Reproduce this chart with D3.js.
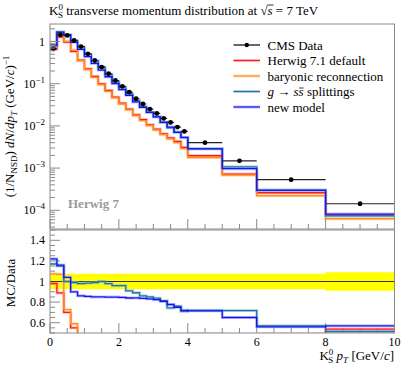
<!DOCTYPE html>
<html><head><meta charset="utf-8">
<script src="https://cdn.jsdelivr.net/npm/d3@7/dist/d3.min.js"></script>
<style>
body{margin:0;background:#fff}
svg{display:block}
text{font-family:"Liberation Serif","DejaVu Serif",serif;fill:#000}
</style>
</head><body>
<svg id="c" width="407" height="367"></svg>
<script>
// ---- data ----
const binEdges = [0,0.2,0.4,0.6,0.8,1.0,1.2,1.4,1.6,1.8,2.0,2.2,2.4,2.6,2.8,3.0,3.2,3.4,3.6,3.8,4.0,5,6,8,10];
const cmsData = [0.67,1.44,1.39,1.06,0.76,0.51,0.355,0.247,0.172,0.119,0.086,0.063,0.044,0.033,0.025,0.0198,0.0150,0.0121,0.0094,0.0074,0.0040,0.00149,0.00053,0.000143];
const cmsRelErr = [0.075,0.075,0.075,0.075,0.075,0.075,0.075,0.075,0.075,0.075,0.075,0.075,0.075,0.075,0.075,0.075,0.075,0.075,0.075,0.075,0.075,0.075,0.075,0.09];
const herwigDefault = [0.657,1.28,0.973,0.583,0.36,0.225,0.148,0.099,0.069,0.048,0.0346,0.025,0.0183,0.0141,0.0106,0.0084,0.0065,0.0052,0.0043,0.0031,0.00196,0.00072,0.00026,0.000077];
const baryonicReco = [0.72,1.54,1.01,0.625,0.35,0.215,0.142,0.095,0.066,0.046,0.033,0.024,0.0175,0.0134,0.0101,0.0080,0.0062,0.0049,0.0040,0.0029,0.00178,0.00068,0.000221,0.000063];
const gssSplit = [0.784,1.656,1.39,1.049,0.745,0.502,0.351,0.247,0.1686,0.1142,0.0826,0.0573,0.0392,0.0284,0.02125,0.0166,0.0122,0.0090,0.00714,0.00525,0.00288,0.00107,0.000302,0.0000736];
const newModel = [0.817,1.67,1.446,0.954,0.654,0.436,0.302,0.210,0.146,0.101,0.0727,0.0529,0.0370,0.0276,0.0208,0.0163,0.0121,0.0094,0.00705,0.00533,0.00286,0.000969,0.000297,0.0000815];
const seriesNames = ["Herwig 7.1 default","baryonic reconnection","g \u2192 ss\u0304 splittings","new model"];
const xTickLabels = ["0","2","4","6","8","10"];
const ratioTickLabels = ["0.6","0.8","1","1.2","1.4"];
const logTickExps = [0,-1,-2,-3,-4];

// ---- styles ----
const colors = ["#ff1a1a","#ff8f1f","#1f73a6","#1414f0"];
const halos  = ["#ff9a9a","#ffc88a","#8fc0d8","#9a9aff"];

const svg = d3.select("#c");
const L = 50, R = 394.5, T = 24, B = 229, RT = 230, RB = 333;
const x = d3.scaleLinear([0,10],[L,R]);
const y = d3.scaleLog([3.6e-5,2.6],[B,T]);
const yr = d3.scaleLinear([0.5,1.5],[RB,RT]);
const frameCol = "#8a8a8a";

const defs = svg.append("defs");
defs.append("clipPath").attr("id","cm").append("rect").attr("x",L).attr("y",T).attr("width",R-L).attr("height",B-T);
defs.append("clipPath").attr("id","cr").append("rect").attr("x",L).attr("y",RT).attr("width",R-L).attr("height",RB-RT);

function stepPts(vals){
  const p = vals.map((v,i)=>[binEdges[i],v]);
  p.push([binEdges[vals.length], vals[vals.length-1]]);
  return p;
}
const lineMain = d3.line().x(d=>x(d[0])).y(d=>y(d[1])).curve(d3.curveStepAfter);
const lineRatio = d3.line().x(d=>x(d[0])).y(d=>yr(d[1])).curve(d3.curveStepAfter);

// ---- main panel ----
const gm = svg.append("g").attr("clip-path","url(#cm)");
const mcs = [herwigDefault, baryonicReco, gssSplit, newModel];
mcs.forEach((s,k)=>{
  gm.append("path").attr("d",lineMain(stepPts(s))).attr("fill","none").attr("stroke",halos[k]).attr("stroke-width",3).attr("opacity",0.6);
});
mcs.forEach((s,k)=>{
  gm.append("path").attr("d",lineMain(stepPts(s))).attr("fill","none").attr("stroke",colors[k]).attr("stroke-width",1.3);
});
// data
cmsData.forEach((v,i)=>{
  const lo = binEdges[i], hi = binEdges[i+1], c = (lo+hi)/2;
  gm.append("line").attr("x1",x(lo)).attr("x2",x(hi)).attr("y1",y(v)).attr("y2",y(v)).attr("stroke","#222").attr("stroke-width",1.2);
  gm.append("line").attr("x1",x(c)).attr("x2",x(c)).attr("y1",y(v*(1-cmsRelErr[i]))).attr("y2",y(v*(1+cmsRelErr[i]))).attr("stroke","#222").attr("stroke-width",1.2);
  gm.append("circle").attr("cx",x(c)).attr("cy",y(v)).attr("r",2.4).attr("fill","#000");
});

// frame main
svg.append("rect").attr("x",L).attr("y",T).attr("width",R-L).attr("height",B-T).attr("fill","none").attr("stroke",frameCol).attr("stroke-width",1);

// main ticks x (bottom)
const tk = svg.append("g").attr("stroke",frameCol).attr("stroke-width",1);
d3.range(0,10.01,0.5).forEach(t=>{
  const major = Math.abs(t/2-Math.round(t/2))<1e-6;
  const len = major?10:5;
  tk.append("line").attr("x1",x(t)).attr("x2",x(t)).attr("y1",B).attr("y2",B-len);
  tk.append("line").attr("x1",x(t)).attr("x2",x(t)).attr("y1",RB).attr("y2",RB-len);
});
// main ticks y (left, log)
for(let e=-5;e<=0;e++){
  for(let m=1;m<=9;m++){
    const v = m*Math.pow(10,e);
    if(v<3.6e-5||v>2.6) continue;
    const len = m===1?10:5;
    tk.append("line").attr("x1",L).attr("x2",L+len).attr("y1",y(v)).attr("y2",y(v));
  }
}
// ratio ticks y
d3.range(0.5,1.5001,0.05).forEach(t=>{
  const major = Math.abs(t*5-Math.round(t*5))<1e-6 && t>0.55 && t<1.45;
  tk.append("line").attr("x1",L).attr("x2",L+(major?10:5)).attr("y1",yr(t)).attr("y2",yr(t));
});

// main y labels
logTickExps.forEach(e=>{
  const t = svg.append("text").attr("x",45).attr("y",y(Math.pow(10,e))+4).attr("text-anchor","end").attr("font-size",12);
  if(e===0){ t.text("1"); }
  else { t.append("tspan").text("10"); t.append("tspan").attr("dy",-5).attr("font-size",9).text("\u2212"+(-e)); }
});

// ---- ratio panel ----
const grr = svg.append("g").attr("clip-path","url(#cr)");
const bandArea = d3.area().x(d=>x(d[0])).y0(d=>yr(1-d[1])).y1(d=>yr(1+d[1])).curve(d3.curveStepAfter);
grr.append("path").attr("d",bandArea(stepPts(cmsRelErr))).attr("fill","#ffff00");
grr.append("line").attr("x1",x(0)).attr("x2",x(10)).attr("y1",yr(1)).attr("y2",yr(1)).attr("stroke","#333").attr("stroke-width",1);
mcs.forEach((s,k)=>{
  const r = s.map((v,i)=>v/cmsData[i]);
  grr.append("path").attr("d",lineRatio(stepPts(r))).attr("fill","none").attr("stroke",halos[k]).attr("stroke-width",3).attr("opacity",0.6);
});
mcs.forEach((s,k)=>{
  const r = s.map((v,i)=>v/cmsData[i]);
  grr.append("path").attr("d",lineRatio(stepPts(r))).attr("fill","none").attr("stroke",colors[k]).attr("stroke-width",1.3);
});
svg.append("rect").attr("x",L).attr("y",RT).attr("width",R-L).attr("height",RB-RT).attr("fill","none").attr("stroke",frameCol).attr("stroke-width",1);

// ratio labels
[0.6,0.8,1,1.2,1.4].forEach((t,i)=>{
  svg.append("text").attr("x",45).attr("y",yr(t)+4).attr("text-anchor","end").attr("font-size",12).text(ratioTickLabels[i]);
});
[0,2,4,6,8,10].forEach((t,i)=>{
  svg.append("text").attr("x",x(t)).attr("y",346).attr("text-anchor","middle").attr("font-size",12).text(xTickLabels[i]);
});

// ---- texts ----
// title
const title = svg.append("text").attr("x",49).attr("y",15).attr("font-size",13);
title.append("tspan").text("K");
title.append("tspan").attr("dy",-5).attr("font-size",9).text("0");
title.append("tspan").attr("dx",-5).attr("dy",8).attr("font-size",9).text("S");
title.append("tspan").attr("dy",-3).text(" transverse momentum distribution at \u221A");
const sT = title.append("tspan").attr("font-style","italic").text("s");
title.append("tspan").text(" = 7 TeV");
const sb = sT.node().getBBox();
svg.append("line").attr("x1",sb.x).attr("x2",sb.x+sb.width+1).attr("y1",sb.y+2).attr("y2",sb.y+2).attr("stroke","#000").attr("stroke-width",0.8);

// y label main
const yl = svg.append("text").attr("transform","translate(14,126.5) rotate(-90)").attr("text-anchor","middle").attr("font-size",13);
yl.append("tspan").text("(1/N");
yl.append("tspan").attr("dy",3).attr("font-size",9).text("NSD");
yl.append("tspan").attr("dy",-3).text(") ");
yl.append("tspan").attr("font-style","italic").text("dN");
yl.append("tspan").text("/");
yl.append("tspan").attr("font-style","italic").text("dp");
yl.append("tspan").attr("dy",3).attr("font-size",9).attr("font-style","italic").text("T");
yl.append("tspan").attr("dy",-3).text(" (GeV/");
yl.append("tspan").attr("font-style","italic").text("c");
yl.append("tspan").text(")");
yl.append("tspan").attr("dy",-5).attr("font-size",9).text("\u22121");

// ratio y label
svg.append("text").attr("transform","translate(15,283) rotate(-90)").attr("text-anchor","middle").attr("font-size",13).text("MC/Data");

// x label
const xl = svg.append("text").attr("x",394).attr("y",360).attr("text-anchor","end").attr("font-size",13);
xl.append("tspan").text("K");
xl.append("tspan").attr("dy",-5).attr("font-size",9).text("0");
xl.append("tspan").attr("dx",-5).attr("dy",8).attr("font-size",9).text("S");
xl.append("tspan").attr("dy",-3).text(" ");
xl.append("tspan").attr("font-style","italic").text("p");
xl.append("tspan").attr("dy",3).attr("font-size",9).attr("font-style","italic").text("T");
xl.append("tspan").attr("dy",-3).text(" [GeV/");
xl.append("tspan").attr("font-style","italic").text("c");
xl.append("tspan").text("]");

// Herwig 7 label
svg.append("text").attr("x",68).attr("y",208).attr("font-size",13).attr("font-weight","bold").style("fill","#9a9a9a").text("Herwig 7");

// ---- legend ----
const lgY = [45,60.5,76,91.5,107];
const lgX1 = 233.5, lgX2 = 260, lgTx = 267.5;
svg.append("line").attr("x1",lgX1).attr("x2",lgX2).attr("y1",lgY[0]).attr("y2",lgY[0]).attr("stroke","#000").attr("stroke-width",1.2);
svg.append("circle").attr("cx",(lgX1+lgX2)/2).attr("cy",lgY[0]).attr("r",2.2).attr("fill","#000");
svg.append("text").attr("x",lgTx).attr("y",lgY[0]+4.5).attr("font-size",13).text("CMS Data");
seriesNames.forEach((n,k)=>{
  const yy = lgY[k+1];
  svg.append("line").attr("x1",lgX1).attr("x2",lgX2).attr("y1",yy).attr("y2",yy).attr("stroke",halos[k]).attr("stroke-width",3).attr("opacity",0.6);
  svg.append("line").attr("x1",lgX1).attr("x2",lgX2).attr("y1",yy).attr("y2",yy).attr("stroke",colors[k]).attr("stroke-width",1.2);
  const t = svg.append("text").attr("x",lgTx).attr("y",yy+4.5).attr("font-size",13);
  if(k===2){
    t.append("tspan").attr("font-style","italic").text("g");
    t.append("tspan").text(" \u2192 ");
    t.append("tspan").attr("font-style","italic").text("s");
    const s2 = t.append("tspan").attr("font-style","italic").text("s");
    t.append("tspan").text(" splittings");
    const bb = s2.node().getBBox();
    svg.append("line").attr("x1",bb.x+0.5).attr("x2",bb.x+bb.width).attr("y1",bb.y+4).attr("y2",bb.y+4).attr("stroke","#000").attr("stroke-width",0.8);
  } else {
    t.text(n);
  }
});
</script>
</body></html>
